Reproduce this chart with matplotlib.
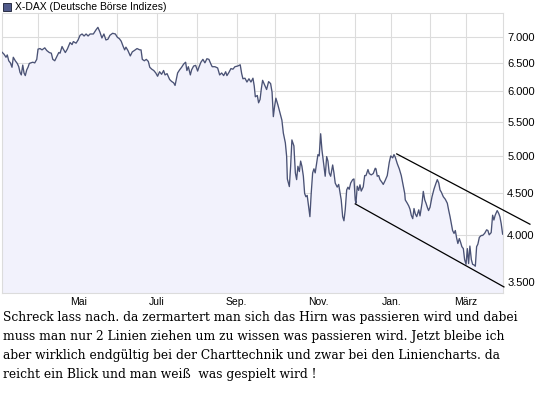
import matplotlib
matplotlib.use('Agg')
import matplotlib.pyplot as plt
from matplotlib.ticker import NullLocator
from matplotlib.patches import Rectangle

# X-DAX, Handelstage ab Anfang Maerz 2008 (Index = Handelstag)
day = [0, 1.1, 2.2, 2.9, 3.7, 4.6, 5.5, 6.2, 7.3, 8.4, 9.2, 9.9, 10.6, 11.4, 12.1, 12.8, 13.6, 14.3, 15.0, 15.8,
       16.9, 18.0, 19.1, 19.8, 20.9, 22.0, 23.5, 24.6, 26.0, 27.1, 27.9, 29.0, 30.1, 31.2, 31.9, 33.0, 33.7, 34.8,
       35.9, 37.4, 38.5, 39.2, 40.7, 41.8, 42.9, 44.0, 45.1, 46.2, 47.3, 48.4, 50.2, 51.6, 52.7, 53.8, 54.9, 56.0,
       57.1, 58.2, 59.3, 60.8, 62.3, 63.4, 64.5, 65.5, 66.6, 67.4, 68.1, 69.2, 70.5, 71.6, 72.7, 74.2, 75.7, 76.4,
       77.1, 78.2, 79.3, 80.4, 81.2, 82.3, 83.4, 84.5, 85.5, 86.6, 87.7, 88.8, 89.6, 90.7, 92.1, 93.2, 94.3, 95.1,
       95.4, 96.5, 97.6, 98.7, 99.8, 100.9, 101.6, 102.4, 103.5, 104.2, 105.3, 106.4, 107.5, 108.2, 109.3, 110.4,
       111.5, 112.6, 113.7, 114.8, 115.5, 117.0, 118.5, 119.6, 120.7, 121.8, 122.9, 123.6, 124.7, 125.8, 126.9,
       128.0, 129.5, 130.9, 131.7, 132.4, 133.5, 134.6, 135.7, 136.8, 137.9, 138.6, 139.2, 140.3, 141.0, 141.8,
       142.5, 143.2, 144.3, 145.4, 146.5, 147.6, 148.4, 149.1, 149.8, 150.5, 151.6, 152.7, 153.8, 154.6, 155.7,
       156.4, 156.8, 157.9, 158.6, 159.3, 160.4, 161.2, 161.9, 162.6, 163.4, 164.1, 164.8, 165.6, 166.3, 167.0,
       167.7, 168.5, 169.2, 169.9, 170.7, 171.4, 172.1, 172.9, 173.6, 174.3, 175.1, 175.8, 176.5, 177.6, 178.4,
       179.1, 179.8, 180.6, 181.7, 182.4, 183.1, 184.2, 185.0, 185.7, 186.4, 187.2, 187.9, 188.6, 189.4, 190.1,
       190.8, 191.6, 192.7, 193.4, 194.1, 194.5, 195.2, 196.0, 196.7, 197.4, 198.5, 199.3, 200.0, 201.1, 201.8,
       202.9, 204.0, 205.1, 205.5, 206.2, 207.0, 207.7, 208.8, 209.5, 210.6, 211.7, 212.8, 213.6, 214.7, 215.4,
       216.1, 217.2, 218.3, 219.4, 220.2, 221.3, 221.6, 222.7, 223.5, 224.2, 224.9, 225.7, 226.4, 227.1, 227.9,
       229.0, 229.7, 230.8, 231.5, 232.3, 233.0, 233.7, 234.4, 235.2, 236.3, 237.4, 238.5, 239.2, 240.0, 240.7,
       241.4, 242.5, 243.6, 244.7, 245.4, 246.2, 246.9, 247.6, 248.4, 249.1, 249.8, 250.5, 251.3, 252.0, 252.7,
       253.5, 254.2, 255.0, 255.7, 256.4, 257.1, 257.9, 258.6, 259.3, 260.1, 260.8, 261.5, 262.3, 263.4, 264.1,
       265.2, 266.3, 267.0, 267.7, 268.8, 269.6, 270.3, 271.0, 272.1, 272.9, 273.6, 274.3, 275.1]
close = [6706, 6668, 6610, 6654, 6545, 6506, 6426, 6610, 6545, 6495, 6436, 6333, 6288, 6466, 6323, 6276, 6379, 6426,
         6495, 6506, 6518, 6506, 6571, 6764, 6775, 6750, 6789, 6737, 6699, 6687, 6572, 6545, 6622, 6699, 6687, 6814,
         6764, 6699, 6764, 6891, 6852, 6910, 6879, 6942, 7034, 7060, 7020, 7060, 7020, 7060, 7060, 7140, 7194, 7100,
         6981, 7060, 6942, 6956, 7034, 7074, 7060, 6994, 6967, 6917, 6814, 6750, 6802, 6737, 6635, 6712, 6737, 6775,
         6750, 6750, 6571, 6545, 6571, 6533, 6426, 6391, 6367, 6323, 6264, 6345, 6299, 6367, 6288, 6311, 6208, 6173,
         6150, 6104, 6150, 6323, 6379, 6426, 6483, 6518, 6367, 6436, 6288, 6379, 6448, 6460, 6357, 6426, 6518, 6571,
         6506, 6583, 6571, 6483, 6436, 6436, 6413, 6288, 6323, 6276, 6345, 6276, 6333, 6402, 6391, 6436, 6448, 6471,
         6311, 6220, 6230, 6163, 6220, 6163, 6230, 6094, 5911, 5933, 5811, 5866, 6046, 6193, 6114, 6034, 6170, 6136,
         5988, 5588, 5755, 5888, 5778, 5655, 5533, 5334, 5188, 4996, 4685, 4585, 4856, 5232, 5144, 4766, 4676, 4856,
         4784, 4928, 4856, 4721, 4496, 4455, 4472, 4333, 4211, 4496, 4766, 4821, 4766, 4901, 5019, 5000, 5324, 5088,
         4946, 4721, 4991, 4928, 4766, 4721, 4874, 4766, 4631, 4578, 4613, 4514, 4415, 4211, 4162, 4293, 4541, 4577,
         4550, 4631, 4676, 4685, 4415, 4374, 4590, 4536, 4608, 4527, 4581, 4730, 4730, 4811, 4757, 4739, 4757, 4829,
         4821, 4721, 4730, 4676, 4640, 4613, 4667, 4730, 4910, 5000, 4973, 5019, 4982, 4892, 4821, 4730, 4631, 4496,
         4415, 4374, 4341, 4301, 4228, 4187, 4309, 4244, 4211, 4293, 4220, 4374, 4523, 4415, 4374, 4325, 4284, 4325,
         4455, 4554, 4631, 4676, 4631, 4541, 4514, 4455, 4423, 4374, 4293, 4211, 4130, 4049, 4016, 4049, 3966, 3903,
         3958, 3916, 3868, 3847, 3730, 3680, 3847, 3688, 3875, 3730, 3680, 3674, 3660, 3868, 3896, 3972, 3993, 3993,
         4016, 4057, 4049, 4000, 4025, 4228, 4171, 4228, 4284, 4252, 4211, 4130, 4008]

# Trendkanal (Start/Ende je Linie)
upper_day = [216.9, 290.1]
upper_val = [5029, 4122]
lower_day = [194.1, 275.8]
lower_val = [4366, 3452]

# Monatsanfaenge (Handelstag-Index) und Beschriftungen
month_start = [20, 42, 63, 85, 107, 129, 150, 174, 194, 214, 235, 255]
month_labels = ['', 'Mai', '', 'Juli', '', 'Sep.', '', 'Nov.', '', 'Jan.', '', 'März']
y_ticks = [3500, 4000, 4500, 5000, 5500, 6000, 6500, 7000]
y_labels = ['3.500', '4.000', '4.500', '5.000', '5.500', '6.000', '6.500', '7.000']

title = 'X-DAX (Deutsche Börse Indizes)'
comment = [
    'Schreck lass nach. da zermartert man sich das Hirn was passieren wird und dabei',
    'muss man nur 2 Linien ziehen um zu wissen was passieren wird. Jetzt bleibe ich',
    'aber wirklich endgültig bei der Charttechnik und zwar bei den Liniencharts. da',
    'reicht ein Blick und man weiß  was gespielt wird !',
]

W, H = 545, 395
grid_col = '#dcdcdc'
line_col = '#4a5275'
fill_col = '#f2f2fc'

fig = plt.figure(figsize=(W / 100, H / 100), dpi=100)
ax = fig.add_axes([2 / W, 1 - 293 / H, 501 / W, 280 / H])

ymin, ymax = 3393, 7492
ax.set_yscale('log')
ax.set_ylim(ymin, ymax)
ax.set_xlim(0, 275.3)

ax.fill_between(day, close, ymin, color=fill_col, lw=0, zorder=1)
ax.plot(day, close, color=line_col, lw=0.95, zorder=3)
ax.plot(upper_day, upper_val, color='black', lw=0.9, clip_on=False, zorder=4)
ax.plot(lower_day, lower_val, color='black', lw=0.9, clip_on=False, zorder=4)

ax.set_xticks(month_start)
ax.set_xticklabels(month_labels, fontsize=7.5, family='Liberation Sans')
ax.yaxis.tick_right()
ax.set_yticks(y_ticks)
ax.set_yticklabels(y_labels, fontsize=8, family='Liberation Sans')
ax.yaxis.set_minor_locator(NullLocator())
ax.tick_params(axis='both', length=0)
ax.tick_params(axis='y', pad=3)
ax.tick_params(axis='x', pad=3)
ax.grid(True, color=grid_col, lw=0.8, zorder=0)
ax.set_axisbelow(True)
for s in ax.spines.values():
    s.set_color(grid_col)
    s.set_linewidth(0.8)

# Titel mit kleinem Quadrat
fig.patches.append(Rectangle((3 / W, 1 - 11 / H), 8 / W, 8 / H, transform=fig.transFigure,
                             facecolor='#505a8a', edgecolor='#2a2f45', lw=0.7))
fig.text(15 / W, 1 - 7 / H, title, fontsize=7.5, family='Liberation Sans', va='center', ha='left')

for i, line in enumerate(comment):
    fig.text(3 / W, 1 - (318 + 18.7 * i) / H, line, fontsize=8.8, family='DejaVu Serif', va='center', ha='left')

plt.savefig('out.png', dpi=100)
